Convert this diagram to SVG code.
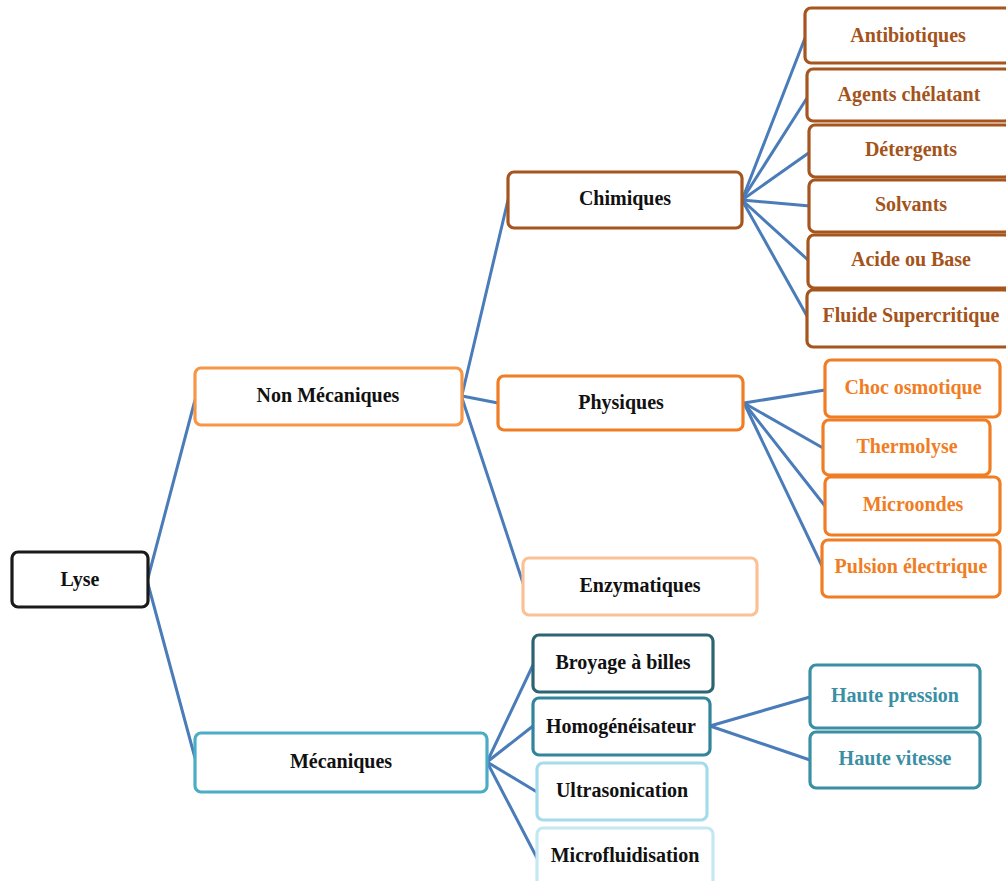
<svg xmlns="http://www.w3.org/2000/svg" width="1006" height="881" viewBox="0 0 1006 881">
<style>
  .box { fill: #ffffff; stroke-width: 3.2; }
  .t { font-family: "Liberation Serif", "Times New Roman", serif; font-weight: bold; font-size: 20px; text-anchor: middle; }
  .k { fill: #111111; }
  .br { fill: #a4531b; }
  .or { fill: #f07d24; }
  .tl { fill: #3a8fa5; }
  .c { stroke: #4a7cba; stroke-width: 3; fill: none; stroke-linecap: round; }
</style>
<rect width="1006" height="881" fill="#ffffff"/>
<g id="connectors">
  <line class="c" x1="148" y1="578" x2="195" y2="400"/>
  <line class="c" x1="148" y1="584" x2="195" y2="758"/>
  <line class="c" x1="462" y1="395" x2="508" y2="200"/>
  <line class="c" x1="462" y1="396" x2="498" y2="403"/>
  <line class="c" x1="462" y1="398" x2="523" y2="583"/>
  <line class="c" x1="742" y1="200" x2="805" y2="38"/>
  <line class="c" x1="742" y1="200" x2="807" y2="98"/>
  <line class="c" x1="742" y1="200" x2="810" y2="152"/>
  <line class="c" x1="742" y1="200" x2="810" y2="206"/>
  <line class="c" x1="742" y1="200" x2="808" y2="260"/>
  <line class="c" x1="742" y1="200" x2="807" y2="316"/>
  <line class="c" x1="744" y1="403" x2="825" y2="390"/>
  <line class="c" x1="744" y1="403" x2="823" y2="448"/>
  <line class="c" x1="744" y1="403" x2="825" y2="506"/>
  <line class="c" x1="744" y1="403" x2="822" y2="566"/>
  <line class="c" x1="487" y1="762" x2="533" y2="665"/>
  <line class="c" x1="487" y1="762" x2="533" y2="726"/>
  <line class="c" x1="487" y1="762" x2="537" y2="792"/>
  <line class="c" x1="487" y1="762" x2="537" y2="858"/>
  <line class="c" x1="710" y1="726" x2="810" y2="697"/>
  <line class="c" x1="710" y1="726" x2="810" y2="760"/>
</g>
<g id="lyse"><rect class="box" x="12" y="552" width="136" height="55" rx="6" stroke="#1a1a1a" stroke-width="3.5"/><text class="t k" x="80" y="586">Lyse</text></g>
<g id="non-mecaniques"><rect class="box" x="195" y="368" width="267" height="57" rx="6" stroke="#f79646"/><text class="t k" x="328" y="402">Non Mécaniques</text></g>
<g id="mecaniques"><rect class="box" x="195" y="733" width="292" height="59" rx="6" stroke="#4bacc6"/><text class="t k" x="341" y="768">Mécaniques</text></g>
<g id="chimiques"><rect class="box" x="508" y="172" width="234" height="56" rx="6" stroke="#a5551d"/><text class="t k" x="625" y="205">Chimiques</text></g>
<g id="physiques"><rect class="box" x="498" y="376" width="245" height="54" rx="6" stroke="#f07d24"/><text class="t k" x="621" y="409">Physiques</text></g>
<g id="enzymatiques"><rect class="box" x="523" y="558" width="234" height="57" rx="6" stroke="#fbc196"/><text class="t k" x="640" y="592">Enzymatiques</text></g>
<g id="antibiotiques"><rect class="box" x="805" y="8" width="206" height="55" rx="6" stroke="#a5551d"/><text class="t br" x="908" y="42">Antibiotiques</text></g>
<g id="agents-chelatant"><rect class="box" x="807" y="69" width="204" height="52" rx="6" stroke="#a5551d"/><text class="t br" x="909" y="101">Agents chélatant</text></g>
<g id="detergents"><rect class="box" x="809" y="125" width="202" height="52" rx="6" stroke="#a5551d"/><text class="t br" x="911" y="156">Détergents</text></g>
<g id="solvants"><rect class="box" x="809" y="180" width="202" height="52" rx="6" stroke="#a5551d"/><text class="t br" x="911" y="211">Solvants</text></g>
<g id="acide-ou-base"><rect class="box" x="808" y="235" width="203" height="53" rx="6" stroke="#a5551d"/><text class="t br" x="911" y="266">Acide ou Base</text></g>
<g id="fluide-supercritique"><rect class="box" x="807" y="290" width="204" height="57" rx="6" stroke="#a5551d"/><text class="t br" x="911" y="322">Fluide Supercritique</text></g>
<g id="choc-osmotique"><rect class="box" x="825" y="360" width="175" height="57" rx="6" stroke="#f07d24"/><text class="t or" x="913" y="394">Choc osmotique</text></g>
<g id="thermolyse"><rect class="box" x="823" y="420" width="167" height="55" rx="6" stroke="#f07d24"/><text class="t or" x="907" y="453">Thermolyse</text></g>
<g id="microondes"><rect class="box" x="825" y="477" width="175" height="58" rx="6" stroke="#f07d24"/><text class="t or" x="913" y="511">Microondes</text></g>
<g id="pulsion-electrique"><rect class="box" x="822" y="540" width="178" height="57" rx="6" stroke="#f07d24"/><text class="t or" x="911" y="573">Pulsion électrique</text></g>
<g id="broyage"><rect class="box" x="533" y="635" width="180" height="57" rx="6" stroke="#2d6472"/><text class="t k" x="623" y="669">Broyage à billes</text></g>
<g id="homogeneisateur"><rect class="box" x="533" y="698" width="177" height="57" rx="6" stroke="#31849b"/><text class="t k" x="621" y="733">Homogénéisateur</text></g>
<g id="ultrasonication"><rect class="box" x="537" y="763" width="170" height="57" rx="6" stroke="#a5dcec"/><text class="t k" x="622" y="797">Ultrasonication</text></g>
<g id="microfluidisation"><rect class="box" x="537" y="828" width="176" height="60" rx="6" stroke="#c4e8f2"/><text class="t k" x="625" y="862">Microfluidisation</text></g>
<g id="haute-pression"><rect class="box" x="810" y="665" width="170" height="63" rx="6" stroke="#3a8fa5"/><text class="t tl" x="895" y="702">Haute pression</text></g>
<g id="haute-vitesse"><rect class="box" x="810" y="732" width="170" height="56" rx="6" stroke="#3a8fa5"/><text class="t tl" x="895" y="765">Haute vitesse</text></g>
</svg>
